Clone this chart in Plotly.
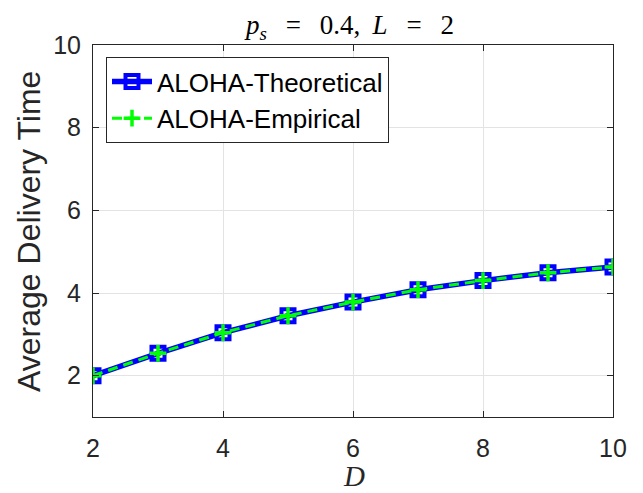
import plotly.graph_objects as go

D = [2, 3, 4, 5, 6, 7, 8, 9, 10]
theoretical = [2.00, 2.54, 3.04, 3.45, 3.78, 4.08, 4.30, 4.49, 4.63]
empirical = [2.00, 2.54, 3.04, 3.45, 3.78, 4.08, 4.30, 4.49, 4.63]
x_ticks = [2, 4, 6, 8, 10]
y_ticks = [2, 4, 6, 8, 10]

fig = go.Figure()
fig.add_trace(go.Scatter(
    x=D, y=theoretical, mode="lines+markers", name="ALOHA-Theoretical",
    line=dict(color="#0000ff", width=5.5),
    marker=dict(symbol="square-open", size=13, color="#0000ff", line=dict(width=4, color="#0000ff")),
))
fig.add_trace(go.Scatter(
    x=D, y=empirical, mode="lines+markers", name="ALOHA-Empirical",
    line=dict(color="#00ff00", width=3, dash="10px,6px"),
    marker=dict(symbol="cross-thin", size=12, color="#00ff00", line=dict(width=3.5, color="#00ff00")),
))

tick_font = dict(family="Liberation Sans, Arial, sans-serif", size=25, color="#262626")
axis_common = dict(
    showline=True, linecolor="#262626", linewidth=1, mirror="allticks",
    ticks="inside", ticklen=6, tickcolor="#262626",
    showgrid=True, gridcolor="#e3e3e3", gridwidth=1, zeroline=False,
    tickfont=tick_font,
)

# page has an 8px body margin: figure is drawn at (8, 8)
W, H = 635, 485
eq = "&nbsp;&nbsp;\u2009"
cm = "&nbsp;\u2009"
fig.update_layout(
    width=W, height=H,
    margin=dict(l=85, r=30, t=37, b=76, autoexpand=False),
    paper_bgcolor="white", plot_bgcolor="white",
    title=dict(
        text=f"<i>p</i><sub><i>s</i></sub>{eq}={eq}0.4,{cm}<i>L</i>{eq}={eq}2",
        font=dict(family="Liberation Serif, DejaVu Serif, serif", size=27, color="#000000"),
        x=342 / W, xanchor="center", xref="container",
        y=1 - 17 / H, yanchor="middle", yref="container",
    ),
    xaxis=dict(range=[2, 10], tickvals=x_ticks, ticklabelstandoff=9, **axis_common),
    yaxis=dict(range=[1, 10], tickvals=y_ticks, ticklabelstandoff=6, **axis_common),
    legend=dict(
        x=0.025, y=0.9677, xanchor="left", yanchor="top",
        bgcolor="white", bordercolor="#262626", borderwidth=1,
        font=dict(family="Liberation Sans, Arial, sans-serif", size=26, color="#000000"),
        itemwidth=40, tracegroupgap=0,
    ),
    showlegend=True,
    annotations=[
        dict(text="Average Delivery Time", xref="paper", yref="paper",
             x=(21.5 - 85) / 520, y=0.4987, xanchor="center", yanchor="middle",
             textangle=-90, showarrow=False,
             font=dict(family="Liberation Sans, Arial, sans-serif", size=32, color="#262626")),
        dict(text="<i>D</i>", xref="paper", yref="paper",
             x=0.502, y=(409 - 468) / 372, xanchor="center", yanchor="middle", showarrow=False,
             borderpad=0,
             font=dict(family="Liberation Serif, DejaVu Serif, serif", size=29, color="#262626")),
    ],
)

fig.write_html("out.html")
